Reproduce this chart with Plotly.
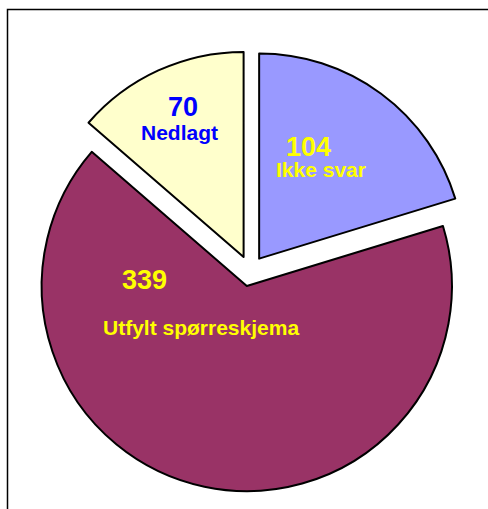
import plotly.graph_objects as go

labels = ["Ikke svar", "Utfylt spørreskjema", "Nedlagt"]
values = [104, 339, 70]
colors = ["#9999FF", "#993366", "#FFFFCC"]
text_colors = ["#FFFF00", "#FFFF00", "#0000FF"]

W, H = 488, 509
fig = go.Figure(go.Pie(
    labels=labels, values=values, sort=False, direction="clockwise", rotation=0,
    marker=dict(colors=colors, line=dict(color="black", width=2)),
    pull=[0.075, 0.075, 0.075], textinfo="none", hoverinfo="label+value",
    showlegend=False,
    domain=dict(x=[29.5 / W, 470.5 / W], y=[17.5 / H, 458.5 / H]),
))

# label positions (pixels from top-left) for value and name
val_pos = [(308, 147), (144, 280), (183, 107)]
name_pos = [(321, 170), (201, 327), (179, 133)]
ann = []
for i in range(len(values)):
    vx, vy = val_pos[i]
    nx, ny = name_pos[i]
    ann.append(dict(x=vx / W, y=1 - vy / H, xref="paper", yref="paper", xanchor="center", yanchor="middle",
                    text="<b>%d</b>" % values[i], showarrow=False,
                    font=dict(family="Liberation Sans, Arial", size=27, color=text_colors[i])))
    ann.append(dict(x=nx / W, y=1 - ny / H, xref="paper", yref="paper", xanchor="center", yanchor="middle",
                    text="<b>%s</b>" % labels[i], showarrow=False,
                    font=dict(family="Liberation Sans, Arial", size=21, color=text_colors[i])))

fig.update_layout(
    width=W, height=H, margin=dict(l=0, r=0, t=0, b=0),
    paper_bgcolor="white", plot_bgcolor="white",
    annotations=ann,
    shapes=[dict(type="rect", xref="paper", yref="paper", x0=7.5 / W, x1=1.05, y0=-0.05, y1=1 - 9.5 / H,
                 line=dict(color="black", width=1.5), fillcolor="rgba(0,0,0,0)", layer="below")],
)
fig.write_html("out.html", config={"displayModeBar": False},
               post_script="document.body.style.margin='0';")
